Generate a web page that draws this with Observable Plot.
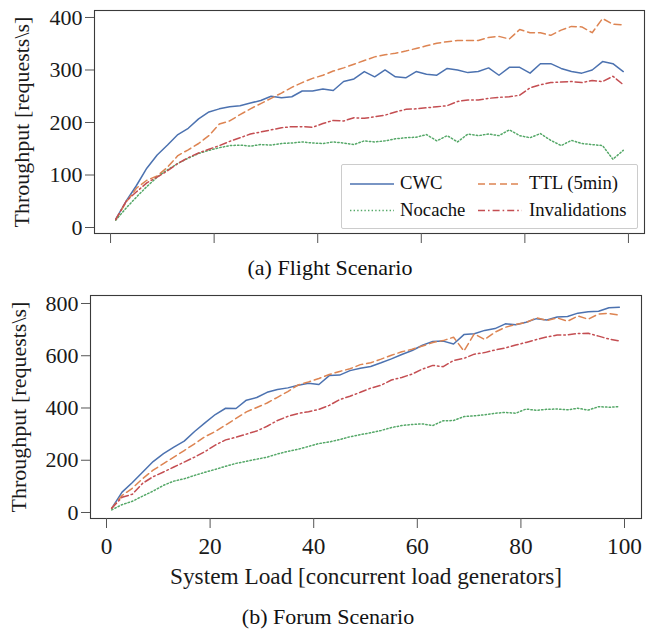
<!DOCTYPE html>
<html><head><meta charset="utf-8">
<script src="https://cdn.jsdelivr.net/npm/d3@7"></script>
<script src="https://cdn.jsdelivr.net/npm/@observablehq/plot@0.6"></script>
<style>
body{margin:0;background:#fff;}
#wrap{position:relative;width:657px;height:629px;overflow:hidden;}
#wrap > svg{position:absolute;left:0;}
</style></head><body><div id="wrap"></div>
<script>
// ---- data ----
const loads = [1,3,5,7,9,11,13,15,17,19,21,23,25,27,29,31,33,35,37,39,41,43,45,47,49,51,53,55,57,59,61,63,65,67,69,71,73,75,77,79,81,83,85,87,89,91,93,95,97,99];
const seriesNames = ["CWC", "TTL (5min)", "Nocache", "Invalidations"];

const flightCWC = [16,50,80,113,138,157,177,189,207,220,226,230,232,237,242,250,247,249,260,260,264,261,278,283,297,287,300,287,285,297,292,290,303,300,295,297,304,290,305,305,294,312,312,303,297,294,300,316,312,297];
const flightTTL = [15,48,75,90,98,115,137,148,160,175,197,203,215,226,236,246,256,267,276,284,290,298,304,311,318,325,329,332,336,341,346,351,354,356,356,356,362,364,359,377,371,371,366,376,383,382,371,398,387,386];
const flightNocache = [14,37,58,78,96,110,122,132,141,147,152,156,157,155,158,157,160,161,163,161,160,163,161,158,165,163,165,169,171,172,177,165,175,163,178,175,178,175,186,175,171,179,166,156,166,160,158,156,130,147];
const flightInval = [15,50,68,85,96,108,122,133,142,149,156,164,171,178,182,186,190,192,192,191,198,204,203,209,208,211,214,220,225,226,228,230,232,240,243,243,246,248,249,252,266,272,276,277,278,276,280,278,288,272];

const forumCWC = [16,78,115,155,195,225,250,273,310,343,375,399,398,430,440,460,471,477,487,495,490,524,526,543,552,559,573,588,605,620,640,655,656,645,681,684,697,704,722,719,728,742,737,748,750,763,768,770,784,786];
const forumTTL = [16,65,93,130,162,187,212,237,263,290,310,335,360,385,402,419,441,463,488,500,513,528,540,550,566,573,587,602,615,625,637,651,658,671,618,684,662,690,709,720,727,745,735,745,732,752,740,760,762,755];
const forumNocache = [10,30,43,63,82,104,120,129,142,154,165,177,188,196,204,212,224,234,242,253,264,270,279,290,298,305,314,325,333,337,339,333,351,352,367,370,374,380,383,380,396,391,395,396,393,399,392,405,403,405];
const forumInval = [16,58,70,112,137,155,174,193,212,233,258,278,288,300,312,330,352,368,379,386,395,410,432,445,460,476,487,507,517,530,549,563,558,582,590,606,612,622,630,641,651,662,672,679,680,685,686,675,664,657];

const flightTicksY = [0,100,200,300,400];
const forumTicksY = [0,200,400,600,800];
const loadTicks = [0,20,40,60,80,100];

// ---- styles ----
const lineStyle = {
  "CWC": {stroke: "#4c72b0", dash: null},
  "TTL (5min)": {stroke: "#dd8452", dash: "7,4"},
  "Nocache": {stroke: "#55a868", dash: "1.4,2.2"},
  "Invalidations": {stroke: "#c44e52", dash: "7,3,1.6,3"}
};
const FONT = "Liberation Serif, Times New Roman, serif";

function rows(name, vals) { return loads.map((x, i) => ({x, y: vals[i], s: name})); }
function lineMarks(valsList) {
  return seriesNames.map((name, k) => Plot.line(rows(name, valsList[k]), {
    x: "x", y: "y", stroke: lineStyle[name].stroke, strokeWidth: 1.5,
    strokeDasharray: lineStyle[name].dash, strokeLinejoin: "round"
  }));
}

const wrap = document.getElementById("wrap");

// ---- (a) Flight ----
const p1 = Plot.plot({
  width: 657, height: 246,
  marginTop: 10, marginBottom: 13, marginLeft: 94, marginRight: 13,
  x: {domain: [-3.1, 103.1]},
  y: {domain: [-11.4, 413.3]},
  style: {fontFamily: FONT, fontSize: "21px", color: "#1a1a1a", background: "transparent", overflow: "visible"},
  marks: [
    ...lineMarks([flightCWC, flightTTL, flightNocache, flightInval]),
    Plot.frame({stroke: "#3a3a3a", strokeWidth: 1.1}),
    Plot.axisY({ticks: flightTicksY, tickSize: 9, tickPadding: 3, stroke: "#555",
      label: "Throughput [requests\\s]", labelAnchor: "center", labelOffset: 81, labelArrow: false, fontSize: 22}),
    Plot.axisX({ticks: loadTicks, tickSize: 10, tickFormat: () => "", label: null, stroke: "#555"})
  ]
});
p1.style.top = "0px";
wrap.appendChild(p1);

// ---- (b) Forum ----
const p2 = Plot.plot({
  width: 657, height: 310,
  marginTop: 10, marginBottom: 77, marginLeft: 90, marginRight: 16,
  x: {domain: [-3.09, 103.28]},
  y: {domain: [-23, 830.6]},
  style: {fontFamily: FONT, fontSize: "21px", color: "#1a1a1a", background: "transparent", overflow: "visible"},
  marks: [
    ...lineMarks([forumCWC, forumTTL, forumNocache, forumInval]),
    Plot.frame({stroke: "#3a3a3a", strokeWidth: 1.1}),
    Plot.axisY({ticks: forumTicksY, tickSize: 9, tickPadding: 3, stroke: "#555",
      label: "Throughput [requests\\s]", labelAnchor: "center", labelOffset: 80, labelArrow: false, fontSize: 22}),
    Plot.axisX({ticks: loadTicks, tickSize: 10, tickPadding: 9, stroke: "#555",
      label: "System Load [concurrent load generators]", labelAnchor: "center", labelOffset: 65, labelArrow: false, fontSize: 23.3})
  ]
});
p2.style.top = "285px";
wrap.appendChild(p2);

// ---- legend and captions overlay ----
const ns = "http://www.w3.org/2000/svg";
const ov = document.createElementNS(ns, "svg");
ov.setAttribute("width", 657); ov.setAttribute("height", 629);
ov.style.top = "0px"; ov.style.pointerEvents = "none";
function el(tag, attrs, text) {
  const e = document.createElementNS(ns, tag);
  for (const k in attrs) e.setAttribute(k, attrs[k]);
  if (text != null) e.textContent = text;
  ov.appendChild(e); return e;
}
el("rect", {x: 341.5, y: 164.5, width: 296, height: 64, fill: "white", stroke: "#cccccc", "stroke-width": 1, rx: 1.5});
const legPos = [[350, 184, 400, 189], [478, 184, 529, 189], [350, 210.5, 400, 215.5], [478, 210.5, 529, 215.5]];
seriesNames.forEach((name, k) => {
  const [lx, ly, tx, ty] = legPos[k];
  const st = lineStyle[name];
  const a = {x1: lx, x2: lx + 44, y1: ly, y2: ly, stroke: st.stroke, "stroke-width": 1.5};
  if (st.dash) a["stroke-dasharray"] = st.dash;
  el("line", a);
  el("text", {x: tx, y: ty, "font-family": FONT, "font-size": 18.7, fill: "#111"}, name);
});
el("text", {x: 330, y: 274.5, "text-anchor": "middle", "font-family": FONT, "font-size": 22, fill: "#111"}, "(a) Flight Scenario");
el("text", {x: 328, y: 624, "text-anchor": "middle", "font-family": FONT, "font-size": 22, fill: "#111"}, "(b) Forum Scenario");
wrap.appendChild(ov);
</script>
</body></html>
